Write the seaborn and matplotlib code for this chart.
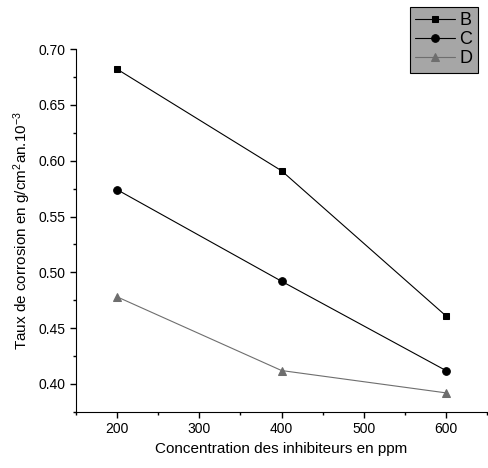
import pandas as pd
import matplotlib
matplotlib.use("Agg")
import matplotlib.pyplot as plt
import seaborn as sns
from matplotlib.ticker import MultipleLocator, FormatStrFormatter

# ---- data ----
concentration = [200, 400, 600]
taux_B = [0.682, 0.591, 0.461]
taux_C = [0.574, 0.492, 0.412]
taux_D = [0.478, 0.412, 0.392]

sns.set_style("ticks", {"axes.labelcolor": "black", "text.color": "black",
                        "xtick.color": "black", "ytick.color": "black",
                        "axes.edgecolor": "black"})
plt.rcParams["font.family"] = ["Liberation Sans", "DejaVu Sans"]
plt.rcParams["mathtext.default"] = "regular"

fig = plt.figure(figsize=(4.88, 4.68), dpi=100)
ax = fig.add_axes([0.156, 0.12, 0.842, 0.775])

series = [
    ("B", taux_B, "s", "black", 5),
    ("C", taux_C, "o", "black", 5.5),
    ("D", taux_D, "^", "#6e6e6e", 6),
]
for name, vals, mk, col, ms in series:
    df = pd.DataFrame({"x": concentration, "y": vals})
    sns.lineplot(data=df, x="x", y="y", ax=ax, color=col, marker=mk,
                 markersize=ms, markeredgecolor=col, linewidth=0.8,
                 label=name)

ax.set_xlim(150, 650)
ax.set_ylim(0.375, 0.70)
ax.xaxis.set_major_locator(MultipleLocator(100))
ax.xaxis.set_minor_locator(MultipleLocator(50))
ax.yaxis.set_major_locator(MultipleLocator(0.05))
ax.yaxis.set_minor_locator(MultipleLocator(0.025))
ax.yaxis.set_major_formatter(FormatStrFormatter("%.2f"))
ax.tick_params(which="major", direction="out", length=4, width=1, labelsize=10)
ax.tick_params(which="minor", direction="out", length=2.5, width=1)
sns.despine(ax=ax)

ax.set_xlabel("Concentration des inhibiteurs en ppm", fontsize=11)
ax.set_ylabel("Taux de corrosion en g/cm$^2$an.10$^{-3}$", fontsize=11)

leg = ax.legend(loc="upper right", bbox_to_anchor=(0.978, 1.117),
                borderaxespad=0, frameon=True, fancybox=False, framealpha=1,
                handlelength=2.2, handletextpad=0.25, borderpad=0.3,
                labelspacing=0.12, fontsize=13)
leg.get_frame().set_facecolor("#a6a6a6")
leg.get_frame().set_edgecolor("black")
leg.get_frame().set_linewidth(0.8)

fig.savefig("out.png", dpi=100)
